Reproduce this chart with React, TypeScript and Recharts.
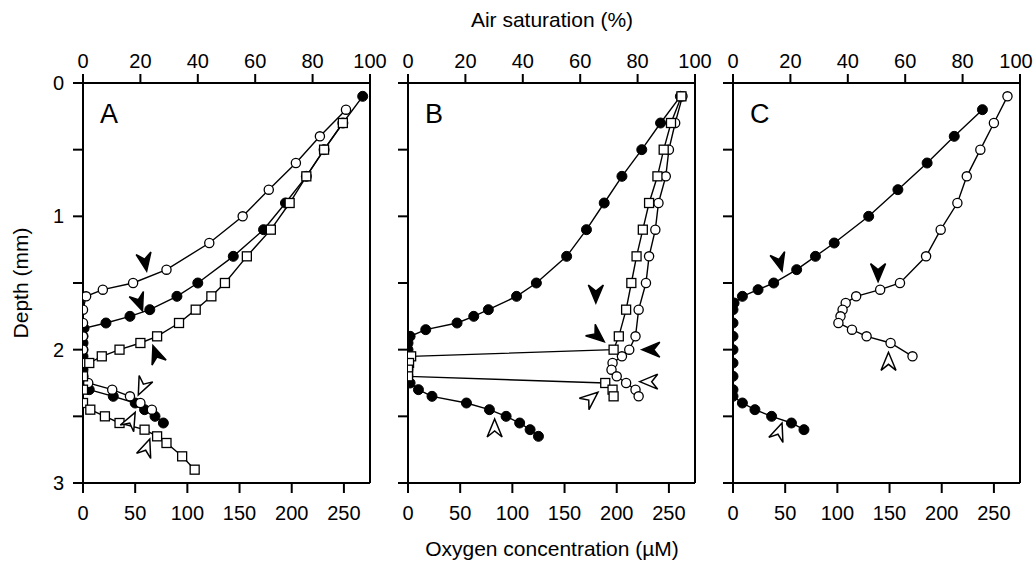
import React from 'react';
import { ScatterChart, Scatter, XAxis, YAxis, ReferenceLine } from 'recharts';

// ---------- data: [oxygen µM, depth mm] ----------
const A_filled: number[][] = [
  [268, 0.1], [249, 0.3], [231, 0.5], [214, 0.7], [194, 0.9], [173, 1.1], [144, 1.3], [110, 1.5],
  [90, 1.6], [64, 1.7], [45, 1.75], [22, 1.8], [1, 1.84], [0, 1.9], [0, 1.95], [0, 2.0], [0, 2.05],
  [0, 2.1], [0, 2.15], [0, 2.2], [0, 2.25], [6, 2.3], [29, 2.35], [50, 2.4], [59, 2.45], [69, 2.5], [77, 2.55],
];
const A_open: number[][] = [
  [252, 0.2], [227, 0.4], [204, 0.6], [178, 0.8], [153, 1.0], [121, 1.2], [80, 1.4], [48, 1.5],
  [19, 1.55], [3, 1.6], [0, 1.7], [0, 1.8], [0, 1.9], [0, 2.0], [0, 2.1], [0, 2.2], [5, 2.25],
  [28, 2.3], [45, 2.35], [55, 2.4], [66, 2.45],
];
const A_square: number[][] = [
  [249, 0.3], [231, 0.5], [214, 0.7], [198, 0.9], [180, 1.1], [157, 1.3], [136, 1.5], [123, 1.6],
  [108, 1.7], [92, 1.8], [71, 1.9], [55, 1.95], [35, 2.0], [18, 2.05], [6, 2.1], [0, 2.2], [0, 2.3],
  [0, 2.4], [7, 2.45], [21, 2.5], [35, 2.55], [59, 2.6], [71, 2.65], [80, 2.7], [95, 2.8], [107, 2.9],
];

const B_filled: number[][] = [
  [261, 0.1], [242, 0.3], [224, 0.5], [205, 0.7], [188, 0.9], [171, 1.1], [152, 1.3], [123, 1.5],
  [104, 1.6], [77, 1.7], [63, 1.75], [47, 1.8], [17, 1.85], [2, 1.9], [0, 1.95], [0, 2.0], [0, 2.05],
  [0, 2.1], [0, 2.15], [0, 2.2], [2, 2.25], [10, 2.3], [23, 2.35], [56, 2.4], [78, 2.45], [94, 2.5],
  [107, 2.55], [117, 2.6], [125, 2.65],
];
const B_open: number[][] = [
  [263, 0.1], [256, 0.3], [250, 0.5], [247, 0.7], [240, 0.9], [237, 1.1], [231, 1.3], [228, 1.5],
  [221, 1.7], [218, 1.9], [212, 2.0], [205, 2.05], [196, 2.1], [195, 2.15], [200, 2.2], [209, 2.25],
  [218, 2.3], [221, 2.35],
];
const B_square: number[][] = [
  [262, 0.1], [252, 0.3], [245, 0.5], [239, 0.7], [231, 0.9], [225, 1.1], [219, 1.3], [214, 1.5],
  [209, 1.7], [202, 1.9], [197, 2.0], [3, 2.05], [1, 2.1], [0, 2.15], [0, 2.2], [189, 2.25],
  [196, 2.3], [197, 2.35],
];

const C_filled: number[][] = [
  [239, 0.2], [212, 0.4], [186, 0.6], [158, 0.8], [130, 1.0], [97, 1.2], [79, 1.3], [61, 1.4],
  [39, 1.5], [24, 1.55], [9, 1.6], [1, 1.65], [0, 1.7], [0, 1.8], [0, 1.9], [0, 2.0], [0, 2.1],
  [0, 2.2], [0, 2.3], [0, 2.35], [9, 2.4], [21, 2.45], [37, 2.5], [56, 2.55], [68, 2.6],
];
const C_open: number[][] = [
  [263, 0.1], [250, 0.3], [237, 0.5], [224, 0.7], [215, 0.9], [199, 1.1], [185, 1.3], [160, 1.5],
  [141, 1.55], [118, 1.6], [108, 1.65], [105, 1.7], [103, 1.75], [101, 1.8], [114, 1.85],
  [128, 1.9], [151, 1.95], [172, 2.05],
];

// arrowheads: [oxygen µM at tip, depth mm at tip, direction deg, filled 1/0]
const A_arrows: number[][] = [
  [61, 1.41, 80, 1], [57, 1.71, 70, 1], [67, 1.97, -110, 1],
  [53, 2.34, 115, 0], [50, 2.47, -63, 0], [64, 2.67, -70, 0],
];
const B_arrows: number[][] = [
  [180, 1.65, 90, 1], [188, 1.94, 40, 1], [224, 2.0, 180, 1],
  [222, 2.24, 180, 0], [182, 2.32, -40, 0], [83, 2.52, -90, 0],
];
const C_arrows: number[][] = [
  [47, 1.41, 75, 1], [139, 1.49, 90, 1], [149, 2.02, -90, 0], [47, 2.55, -70, 0],
];

const CONC_TICKS = [0, 50, 100, 150, 200, 250];
const SAT_TICKS = [0, 20, 40, 60, 80, 100];
const DEPTH_TICKS = [0, 0.5, 1, 1.5, 2, 2.5, 3];
const CONC_MAX = 275; // µM at 100 % air saturation
const PANEL_LETTERS = ['A', 'B', 'C'];
const TOP_TITLE = 'Air saturation (%)';
const BOTTOM_TITLE = 'Oxygen concentration (\u00b5M)';
const Y_TITLE = 'Depth (mm)';

const FONT = '"Liberation Sans", Arial, Helvetica, sans-serif';
const PAGE_W = 1034;

const toPts = (arr: number[][]) => arr.map(([x, d]) => ({ x, d }));
const toArrows = (arr: number[][]) => arr.map(([x, d, angle, filled]) => ({ x, d, angle, filled }));

const FilledCircle = (p: any) => <circle cx={p.cx} cy={p.cy} r={5} fill="#000" stroke="#000" strokeWidth={1} />;
const OpenCircle = (p: any) => <circle cx={p.cx} cy={p.cy} r={4.6} fill="#fff" stroke="#000" strokeWidth={1.3} />;
const OpenSquare = (p: any) => (
  <rect x={p.cx - 4.5} y={p.cy - 4.5} width={9} height={9} fill="#fff" stroke="#000" strokeWidth={1.3} />
);
const Arrow = (p: any) => {
  const a = p.payload?.angle ?? 0;
  const filled = p.payload?.filled;
  return (
    <path
      d="M0,0 L-18,-7.5 L-12,0 L-18,7.5 Z"
      transform={`translate(${p.cx},${p.cy}) rotate(${a})`}
      fill={filled ? '#000' : '#fff'}
      stroke="#000"
      strokeWidth={1.5}
      strokeLinejoin="miter"
    />
  );
};

const PLOT_TOP = 83;
const PLOT_W = 287;
const CHART_H = 567;
const Y_W = 75;
const RIGHT_PAD = 28;

type Series = { data: number[][]; shape: any };

function Panel({ left, series, arrows, showLabels }: { left: number; series: Series[]; arrows: number[][]; showLabels: boolean }) {
  const tickStyle = { fill: '#000', fontSize: 20, fontFamily: FONT };
  const svgLeft = left - Y_W;
  const maxCenter = PAGE_W - 18 - svgLeft; // keep top labels inside the page
  const TopTick = (p: any) => (
    <text
      x={Math.min(p.x, maxCenter)}
      y={p.y}
      textAnchor="middle"
      fill="#000"
      fontSize={20}
      fontFamily={FONT}
    >
      {p.payload?.value}
    </text>
  );
  return (
    <div style={{ position: 'absolute', left: svgLeft, top: 0 }}>
      <ScatterChart width={Y_W + PLOT_W + RIGHT_PAD} height={CHART_H} margin={{ top: 43, right: RIGHT_PAD, bottom: 44, left: 0 }}>
        <XAxis
          xAxisId="top"
          orientation="top"
          type="number"
          dataKey="x"
          domain={[0, 100]}
          ticks={SAT_TICKS}
          allowDataOverflow
          height={40}
          tickSize={9}
          tickMargin={6}
          stroke="#000"
          strokeWidth={2}
          tick={TopTick}
          interval={0}
        />
        <XAxis
          xAxisId="bottom"
          orientation="bottom"
          type="number"
          dataKey="x"
          domain={[0, CONC_MAX]}
          ticks={CONC_TICKS}
          allowDataOverflow
          height={40}
          tickSize={10}
          tickMargin={13}
          stroke="#000"
          strokeWidth={2}
          tick={tickStyle}
          interval={0}
        />
        <YAxis
          yAxisId="depth"
          type="number"
          dataKey="d"
          domain={[0, 3]}
          reversed
          ticks={DEPTH_TICKS}
          allowDataOverflow
          width={Y_W}
          tickSize={10}
          tickMargin={9}
          stroke="#000"
          strokeWidth={2}
          tick={tickStyle}
          interval={0}
          tickFormatter={(v: number) => (showLabels && Number.isInteger(v) ? String(v) : '')}
        />
        <ReferenceLine xAxisId="bottom" yAxisId="depth" x={CONC_MAX} stroke="#000" strokeWidth={2} />
        {series.map((s, i) => (
          <Scatter
            key={i}
            xAxisId="bottom"
            yAxisId="depth"
            data={toPts(s.data)}
            line={{ stroke: '#000', strokeWidth: 1.4 }}
            lineType="joint"
            shape={s.shape}
            isAnimationActive={false}
          />
        ))}
        <Scatter
          xAxisId="bottom"
          yAxisId="depth"
          data={toArrows(arrows)}
          shape={Arrow}
          isAnimationActive={false}
        />
      </ScatterChart>
    </div>
  );
}

const PANELS = [
  { left: 83, series: [{ data: A_filled, shape: FilledCircle }, { data: A_open, shape: OpenCircle }, { data: A_square, shape: OpenSquare }], arrows: A_arrows },
  { left: 408, series: [{ data: B_filled, shape: FilledCircle }, { data: B_open, shape: OpenCircle }, { data: B_square, shape: OpenSquare }], arrows: B_arrows },
  { left: 733, series: [{ data: C_filled, shape: FilledCircle }, { data: C_open, shape: OpenCircle }], arrows: C_arrows },
];

export default function App() {
  return (
    <div style={{ position: 'absolute', left: 0, top: 0, width: PAGE_W, height: 567, background: '#fff', overflow: 'hidden' }}>
      {PANELS.map((p, i) => (
        <Panel key={i} left={p.left} series={p.series} arrows={p.arrows} showLabels={i === 0} />
      ))}
      <svg
        width={PAGE_W}
        height={567}
        style={{ position: 'absolute', left: 0, top: 0, pointerEvents: 'none' }}
        fontFamily={FONT}
      >
        <text x={552} y={27} fontSize={21} textAnchor="middle" fill="#000">{TOP_TITLE}</text>
        <text x={552} y={556} fontSize={21} textAnchor="middle" fill="#000">{BOTTOM_TITLE}</text>
        <text transform="translate(28,283) rotate(-90)" fontSize={21} textAnchor="middle" fill="#000">{Y_TITLE}</text>
        {PANELS.map((p, i) => (
          <text key={i} x={p.left + 17} y={PLOT_TOP + 40} fontSize={27} fill="#000">{PANEL_LETTERS[i]}</text>
        ))}
      </svg>
    </div>
  );
}
